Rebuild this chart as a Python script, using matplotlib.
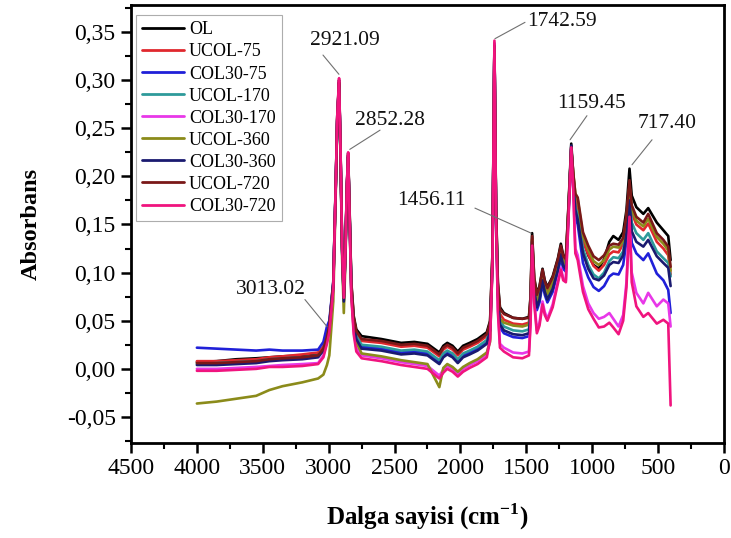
import matplotlib
matplotlib.use("Agg")
import matplotlib.pyplot as plt
from matplotlib.ticker import MultipleLocator, FuncFormatter

plt.rcParams['font.family'] = ['Liberation Serif', 'DejaVu Serif']
plt.rcParams['mathtext.fontset'] = 'custom'
plt.rcParams['mathtext.rm'] = 'Liberation Serif'
plt.rcParams['mathtext.bf'] = 'Liberation Serif:bold'

# FTIR spectra: wavenumber grid (cm-1) shared by all samples
wavenumber = [4000, 3850, 3700, 3550, 3450, 3350, 3200, 3080,
              3040, 3013, 2995,
              2965, 2945, 2935, 2921, 2910, 2898, 2885, 2872, 2862, 2852, 2842, 2828, 2810, 2790,
              2750, 2600, 2450, 2350, 2250, 2160, 2130, 2100, 2060, 2020, 1980, 1930, 1870, 1800,
              1775, 1757, 1742, 1730, 1716, 1700,
              1670, 1600, 1530, 1480,
              1468, 1456, 1440, 1420, 1400, 1377, 1360, 1340, 1300, 1260, 1238, 1220, 1200, 1180,
              1159, 1145, 1128, 1110,
              1070, 1030, 990, 950, 910, 870, 840, 800, 765, 740,
              717, 700, 665, 612, 575, 510, 460, 423, 405]

ol = [0.007, 0.008, 0.010, 0.011, 0.012, 0.013, 0.014, 0.016,
      0.022, 0.034, 0.046,
      0.090, 0.200, 0.262, 0.300, 0.228, 0.130, 0.075, 0.130, 0.190, 0.224, 0.170, 0.090, 0.055, 0.041,
      0.034, 0.031, 0.027, 0.028, 0.026, 0.017, 0.024, 0.027, 0.024, 0.018, 0.024, 0.027, 0.031, 0.038,
      0.050, 0.120, 0.338, 0.170, 0.090, 0.064,
      0.058, 0.053, 0.052, 0.054,
      0.075, 0.141, 0.095, 0.078, 0.086, 0.104, 0.092, 0.085, 0.096, 0.115, 0.130, 0.118, 0.115, 0.170,
      0.234, 0.205, 0.175, 0.168,
      0.135, 0.118, 0.108, 0.104, 0.114, 0.132, 0.138, 0.134, 0.142, 0.165,
      0.208, 0.180, 0.168, 0.161, 0.167, 0.152, 0.144, 0.138, 0.113]

ucol_75 = [0.008, 0.008, 0.009, 0.010, 0.012, 0.013, 0.015, 0.017,
           0.023, 0.035, 0.046,
           0.088, 0.198, 0.260, 0.298, 0.226, 0.128, 0.074, 0.128, 0.188, 0.222, 0.167, 0.087, 0.052, 0.037,
           0.029, 0.027, 0.023, 0.024, 0.022, 0.013, 0.020, 0.023, 0.020, 0.014, 0.020, 0.023, 0.027, 0.034,
           0.046, 0.116, 0.336, 0.166, 0.085, 0.057,
           0.051, 0.047, 0.046, 0.048,
           0.068, 0.135, 0.088, 0.072, 0.080, 0.099, 0.087, 0.079, 0.090, 0.110, 0.125, 0.113, 0.110, 0.166,
           0.230, 0.200, 0.176, 0.168,
           0.133, 0.119, 0.107, 0.102, 0.108, 0.119, 0.122, 0.121, 0.130, 0.155,
           0.190, 0.162, 0.150, 0.144, 0.151, 0.132, 0.125, 0.118, 0.098]

col30_75 = [0.022, 0.021, 0.020, 0.019, 0.020, 0.019, 0.019, 0.020,
            0.028, 0.044, 0.050,
            0.090, 0.196, 0.258, 0.297, 0.224, 0.124, 0.071, 0.124, 0.186, 0.221, 0.163, 0.082, 0.047, 0.030,
            0.023, 0.021, 0.017, 0.018, 0.016, 0.007, 0.014, 0.017, 0.014, 0.008, 0.014, 0.017, 0.021, 0.028,
            0.040, 0.110, 0.335, 0.162, 0.076, 0.043,
            0.037, 0.033, 0.032, 0.034,
            0.057, 0.130, 0.080, 0.061, 0.069, 0.089, 0.077, 0.069, 0.080, 0.100, 0.116, 0.104, 0.101, 0.160,
            0.228, 0.190, 0.158, 0.150,
            0.110, 0.095, 0.085, 0.081, 0.086, 0.096, 0.099, 0.098, 0.108, 0.133,
            0.168, 0.131, 0.120, 0.113, 0.120, 0.099, 0.092, 0.082, 0.058]

ucol_170 = [0.005, 0.006, 0.007, 0.008, 0.010, 0.011, 0.012, 0.014,
            0.020, 0.032, 0.044,
            0.086, 0.196, 0.258, 0.297, 0.224, 0.126, 0.072, 0.126, 0.186, 0.221, 0.165, 0.085, 0.050, 0.034,
            0.025, 0.023, 0.019, 0.020, 0.018, 0.009, 0.016, 0.019, 0.016, 0.010, 0.016, 0.019, 0.023, 0.030,
            0.042, 0.112, 0.335, 0.164, 0.082, 0.050,
            0.044, 0.040, 0.039, 0.041,
            0.062, 0.133, 0.084, 0.066, 0.074, 0.094, 0.082, 0.074, 0.085, 0.105, 0.121, 0.109, 0.106, 0.164,
            0.228, 0.196, 0.168, 0.160,
            0.125, 0.108, 0.098, 0.094, 0.100, 0.112, 0.116, 0.115, 0.122, 0.146,
            0.182, 0.152, 0.141, 0.134, 0.141, 0.122, 0.115, 0.110, 0.096]

col30_170 = [0.000, 0.000, 0.001, 0.002, 0.003, 0.004, 0.005, 0.006,
             0.014, 0.028, 0.040,
             0.084, 0.196, 0.258, 0.299, 0.225, 0.124, 0.072, 0.124, 0.187, 0.222, 0.162, 0.078, 0.040, 0.022,
             0.014, 0.011, 0.007, 0.005, 0.003, -0.007, -0.001, 0.003, 0.000, -0.005, 0.000, 0.004, 0.008, 0.015,
             0.032, 0.108, 0.338, 0.160, 0.064, 0.026,
             0.022, 0.017, 0.016, 0.018,
             0.050, 0.131, 0.072, 0.040, 0.048, 0.070, 0.059, 0.052, 0.067, 0.092, 0.105, 0.094, 0.092, 0.158,
             0.230, 0.192, 0.125, 0.118,
             0.086, 0.068, 0.058, 0.052, 0.054, 0.058, 0.052, 0.044, 0.056, 0.090,
             0.160, 0.100, 0.079, 0.068, 0.079, 0.065, 0.072, 0.068, 0.044]

ucol_360 = [-0.036, -0.034, -0.031, -0.028, -0.022, -0.018, -0.014, -0.010,
            -0.006, 0.004, 0.014,
            0.070, 0.190, 0.255, 0.296, 0.220, 0.115, 0.058, 0.115, 0.185, 0.220, 0.160, 0.078, 0.042, 0.028,
            0.016, 0.013, 0.009, 0.007, 0.005, -0.019, 0.001, 0.005, 0.002, -0.003, 0.002, 0.006, 0.010, 0.017,
            0.028, 0.110, 0.334, 0.165, 0.080, 0.052,
            0.048, 0.045, 0.044, 0.046,
            0.066, 0.134, 0.087, 0.070, 0.078, 0.098, 0.086, 0.078, 0.089, 0.109, 0.124, 0.112, 0.109, 0.166,
            0.228, 0.205, 0.182, 0.176,
            0.138, 0.124, 0.112, 0.108, 0.113, 0.124, 0.127, 0.126, 0.133, 0.157,
            0.190, 0.166, 0.154, 0.148, 0.156, 0.137, 0.130, 0.123, 0.102]

col30_360 = [0.004, 0.004, 0.005, 0.006, 0.008, 0.009, 0.010, 0.012,
             0.019, 0.031, 0.043,
             0.085, 0.195, 0.257, 0.297, 0.223, 0.124, 0.070, 0.124, 0.185, 0.220, 0.164, 0.083, 0.048, 0.031,
             0.021, 0.019, 0.015, 0.016, 0.014, 0.005, 0.012, 0.015, 0.012, 0.006, 0.012, 0.015, 0.019, 0.026,
             0.040, 0.110, 0.335, 0.162, 0.078, 0.046,
             0.040, 0.036, 0.035, 0.037,
             0.060, 0.132, 0.082, 0.064, 0.072, 0.092, 0.080, 0.072, 0.083, 0.103, 0.119, 0.107, 0.104, 0.163,
             0.232, 0.196, 0.165, 0.155,
             0.120, 0.104, 0.094, 0.092, 0.097, 0.108, 0.111, 0.110, 0.118, 0.141,
             0.175, 0.143, 0.132, 0.127, 0.134, 0.117, 0.110, 0.105, 0.086]

ucol_720 = [0.006, 0.006, 0.007, 0.008, 0.010, 0.011, 0.012, 0.014,
            0.021, 0.033, 0.045,
            0.088, 0.198, 0.260, 0.298, 0.226, 0.128, 0.074, 0.128, 0.188, 0.222, 0.168, 0.088, 0.053, 0.039,
            0.031, 0.029, 0.025, 0.026, 0.024, 0.015, 0.022, 0.025, 0.022, 0.016, 0.022, 0.025, 0.029, 0.036,
            0.048, 0.118, 0.336, 0.168, 0.088, 0.062,
            0.057, 0.053, 0.052, 0.053,
            0.073, 0.138, 0.093, 0.077, 0.085, 0.103, 0.091, 0.084, 0.095, 0.114, 0.128, 0.117, 0.114, 0.168,
            0.230, 0.205, 0.182, 0.178,
            0.142, 0.128, 0.117, 0.113, 0.118, 0.128, 0.130, 0.129, 0.136, 0.160,
            0.196, 0.170, 0.158, 0.152, 0.161, 0.141, 0.134, 0.127, 0.106]

col30_720 = [-0.002, -0.002, -0.001, 0.000, 0.002, 0.002, 0.003, 0.005,
             0.012, 0.026, 0.038,
             0.082, 0.198, 0.262, 0.302, 0.228, 0.126, 0.074, 0.126, 0.190, 0.225, 0.162, 0.076, 0.036, 0.018,
             0.011, 0.008, 0.004, 0.002, 0.000, -0.010, -0.004, 0.000, -0.003, -0.008, -0.003, 0.001, 0.005, 0.012,
             0.030, 0.108, 0.341, 0.160, 0.060, 0.022,
             0.018, 0.012, 0.011, 0.014,
             0.046, 0.128, 0.068, 0.037, 0.045, 0.067, 0.056, 0.050, 0.064, 0.089, 0.103, 0.092, 0.090, 0.156,
             0.230, 0.190, 0.120, 0.113,
             0.080, 0.062, 0.052, 0.043, 0.044, 0.048, 0.043, 0.036, 0.050, 0.085,
             0.158, 0.090, 0.065, 0.054, 0.058, 0.047, 0.051, 0.047, -0.038]

sample_names = ['OL', 'UCOL-75', 'COL30-75', 'UCOL-170', 'COL30-170',
                'UCOL-360', 'COL30-360', 'UCOL-720', 'COL30-720']
sample_values = [ol, ucol_75, col30_75, ucol_170, col30_170,
                 ucol_360, col30_360, ucol_720, col30_720]
sample_colors = ['#000000', '#E0282E', '#2020D8', '#2E9A9A', '#E838E8',
                 '#8B8B1A', '#1A1A70', '#7A1818', '#F0147E']

# Labelled band positions
peak_labels = ['3013.02', '2921.09', '2852.28', '1742.59', '1456.11', '1159.45', '717.40']
peak_xy = [(3013, 0.044), (2922, 0.306), (2840, 0.228), (1738, 0.343),
           (1463, 0.141), (1168, 0.238), (698, 0.212)]
leader_start = [(3180, 0.072), (3043, 0.326), (2610, 0.248), (1510, 0.360),
                (1890, 0.167), (1040, 0.263), (546, 0.238)]
label_pos = [(3438, 0.082), (2876, 0.341), (2535, 0.258), (1229, 0.361),
             (2223, 0.175), (1002, 0.276), (433, 0.255)]

fig = plt.figure(figsize=(7.31, 5.38), dpi=100)
ax = fig.add_axes([0.1792, 0.1766, 0.8112, 0.8141])

for name, vals, col in zip(sample_names, sample_values, sample_colors):
    ax.plot(wavenumber, vals, color=col, lw=1.9, label=name,
            solid_joinstyle='round', solid_capstyle='round')

for lab, xy, st, pos in zip(peak_labels, peak_xy, leader_start, label_pos):
    ax.annotate('', xy=xy, xytext=st,
                arrowprops=dict(arrowstyle='-', color='#707070', lw=0.8,
                                shrinkA=0, shrinkB=0))
    ax.text(pos[0], pos[1], lab, fontsize=15.5, ha='center', va='center', color='#111111')

ax.set_xlim(4500, 0)
ax.set_ylim(-0.077, 0.378)
ax.xaxis.set_major_locator(MultipleLocator(500))
ax.xaxis.set_minor_locator(MultipleLocator(250))
ax.yaxis.set_major_locator(MultipleLocator(0.05))
ax.yaxis.set_minor_locator(MultipleLocator(0.025))
ax.yaxis.set_major_formatter(FuncFormatter(lambda v, p: f"{v:.2f}".replace('.', ',').replace('-0,00', '0,00')))

ax.tick_params(axis='both', which='major', direction='out', length=7, width=1.8,
               labelsize=17, pad=4, top=False, right=False)
ax.tick_params(axis='both', which='minor', direction='out', length=4, width=1.5,
               top=False, right=False)
for sp in ax.spines.values():
    sp.set_linewidth(2.0)

ax.set_ylabel('Absorbans', fontsize=17.5, fontweight='bold', labelpad=18)
ax.set_xlabel(r'Dalga sayisi (cm$^{\mathbf{-1}}$)', fontsize=18, fontweight='bold', labelpad=16)

leg = ax.legend(loc='upper left', bbox_to_anchor=(0.008, 0.977), fontsize=13,
                frameon=True, fancybox=False, edgecolor='#999999', borderpad=0.35,
                labelspacing=0.28, handlelength=2.3, handletextpad=0.3, borderaxespad=0)
leg.get_frame().set_linewidth(0.8)
for h in leg.get_lines():
    h.set_linewidth(2.0)

fig.savefig('out.png', dpi=100)
